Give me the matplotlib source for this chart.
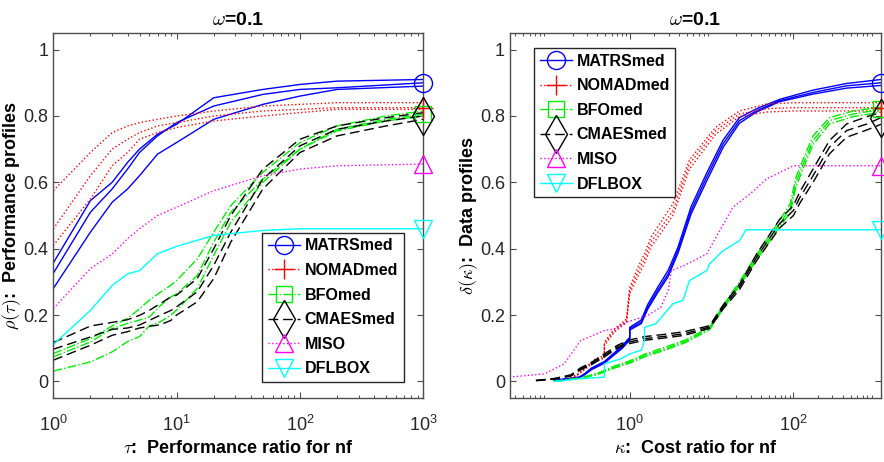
import matplotlib
matplotlib.use("Agg")
import matplotlib.pyplot as plt
from matplotlib.lines import Line2D

plt.rcParams['font.family'] = ['Liberation Sans', 'DejaVu Sans']
plt.rcParams['mathtext.fontset'] = 'cm'

# ---------------- data: performance profiles (left) ----------------
tau_a = [1, 2, 3, 4, 5, 7, 10, 20, 50, 100, 200, 1000]
perf_matrs = [
    [0.357, 0.545, 0.60, 0.66, 0.70, 0.745, 0.775, 0.855, 0.88, 0.895, 0.905, 0.91],
    [0.326, 0.51, 0.58, 0.64, 0.69, 0.74, 0.78, 0.83, 0.865, 0.88, 0.885, 0.90],
    [0.28, 0.45, 0.54, 0.58, 0.62, 0.685, 0.72, 0.79, 0.835, 0.86, 0.88, 0.89],
]
perf_nomad = [
    [0.575, 0.69, 0.75, 0.77, 0.78, 0.79, 0.80, 0.815, 0.83, 0.835, 0.84, 0.84],
    [0.46, 0.62, 0.70, 0.73, 0.75, 0.77, 0.78, 0.80, 0.815, 0.82, 0.825, 0.825],
    [0.41, 0.55, 0.65, 0.69, 0.73, 0.75, 0.765, 0.785, 0.80, 0.81, 0.82, 0.82],
]
perf_miso = [[0.22, 0.34, 0.384, 0.43, 0.46, 0.50, 0.525, 0.575, 0.62, 0.64, 0.65, 0.655]]
perf_dflbox = [[0.111, 0.214, 0.289, 0.324, 0.334, 0.385, 0.407, 0.44, 0.455, 0.46, 0.46, 0.46]]

tau_b = [1, 2, 3, 4, 5, 6, 7.4, 9, 10, 14.7, 20, 27.5, 50, 100, 200, 500, 1000]
perf_bfo = [
    [0.084, 0.129, 0.167, 0.19, 0.219, 0.245, 0.269, 0.29, 0.304, 0.369, 0.45, 0.53, 0.63, 0.72, 0.77, 0.80, 0.815],
    [0.074, 0.119, 0.159, 0.175, 0.185, 0.194, 0.229, 0.255, 0.264, 0.319, 0.42, 0.51, 0.61, 0.70, 0.76, 0.79, 0.805],
    [0.031, 0.059, 0.089, 0.12, 0.135, 0.167, 0.18, 0.20, 0.215, 0.28, 0.38, 0.48, 0.60, 0.70, 0.755, 0.785, 0.80],
]
perf_cmaes = [
    [0.117, 0.167, 0.178, 0.186, 0.199, 0.214, 0.235, 0.255, 0.26, 0.31, 0.40, 0.50, 0.64, 0.73, 0.77, 0.795, 0.81],
    [0.097, 0.134, 0.157, 0.161, 0.170, 0.184, 0.20, 0.214, 0.225, 0.27, 0.35, 0.45, 0.61, 0.71, 0.76, 0.785, 0.80],
    [0.064, 0.109, 0.139, 0.150, 0.161, 0.166, 0.171, 0.184, 0.20, 0.24, 0.31, 0.42, 0.58, 0.69, 0.74, 0.77, 0.79],
]

# ---------------- data: data profiles (right) ----------------
kap_matrs = [0.120, 0.243, 0.282, 0.339, 0.490, 0.646, 0.813, 1.0, 1.0, 1.380, 1.660, 2.188,
             2.951, 3.890, 5.623, 8.710, 13.80, 21.88, 35.48, 67.61, 173.8, 446.7, 1175]
data_matrs = [
    [0.003, 0.013, 0.023, 0.040, 0.060, 0.086, 0.108, 0.133, 0.163, 0.185, 0.232, 0.283,
     0.335, 0.405, 0.527, 0.628, 0.727, 0.795, 0.822, 0.850, 0.878, 0.898, 0.910],
    [0.003, 0.013, 0.023, 0.038, 0.058, 0.083, 0.104, 0.129, 0.159, 0.179, 0.224, 0.274,
     0.324, 0.395, 0.515, 0.616, 0.716, 0.786, 0.816, 0.846, 0.871, 0.891, 0.900],
    [0.003, 0.011, 0.020, 0.035, 0.055, 0.080, 0.100, 0.125, 0.155, 0.174, 0.218, 0.267,
     0.316, 0.387, 0.505, 0.604, 0.705, 0.778, 0.812, 0.843, 0.866, 0.884, 0.892],
]
kap_nomad = [0.191, 0.229, 0.372, 0.490, 0.490, 0.646, 0.912, 1.0, 1.259, 1.514, 1.820,
             3.365, 4.467, 5.370, 11.22, 21.88, 46.77, 100, 1175]
data_nomad = [
    [0.010, 0.022, 0.066, 0.078, 0.118, 0.158, 0.188, 0.283, 0.344, 0.384, 0.435,
     0.535, 0.615, 0.668, 0.766, 0.815, 0.836, 0.840, 0.840],
    [0.010, 0.020, 0.063, 0.073, 0.113, 0.153, 0.183, 0.274, 0.330, 0.370, 0.420,
     0.515, 0.600, 0.655, 0.756, 0.806, 0.822, 0.825, 0.825],
    [0.008, 0.018, 0.060, 0.070, 0.108, 0.148, 0.178, 0.265, 0.316, 0.356, 0.405,
     0.500, 0.585, 0.640, 0.745, 0.798, 0.812, 0.815, 0.815],
]
kap_miso = [0.0339, 0.0912, 0.158, 0.251, 0.490, 0.646, 0.933, 1.660, 2.399, 2.951, 3.236,
            4.677, 8.710, 18.20, 29.51, 46.77, 100, 1175]
data_miso = [[0.013, 0.023, 0.053, 0.123, 0.153, 0.158, 0.179, 0.199, 0.224, 0.274, 0.334,
              0.350, 0.384, 0.525, 0.565, 0.610, 0.650, 0.650]]
kap_dflbox = [0.120, 0.243, 0.490, 0.490, 0.776, 1.0, 1.380, 1.514, 1.514, 2.089, 3.365,
              4.467, 5.370, 8.710, 9.462, 13.80, 21.88, 26.30, 1175]
data_dflbox = [[0.0, 0.008, 0.013, 0.053, 0.068, 0.083, 0.094, 0.123, 0.163, 0.174, 0.234,
                0.244, 0.304, 0.334, 0.354, 0.394, 0.424, 0.457, 0.457]]
kap_bfo = [0.120, 0.251, 0.407, 0.646, 1.0, 1.514, 2.692, 4.898, 9.462, 13.80, 21.88, 35.48,
           67.61, 91.2, 107.2, 131.8, 173.8, 275.4, 537, 955, 1175]
data_bfo = [
    [0.0, 0.011, 0.025, 0.046, 0.062, 0.082, 0.103, 0.126, 0.163, 0.228, 0.300, 0.382,
     0.485, 0.535, 0.615, 0.670, 0.740, 0.795, 0.815, 0.824, 0.826],
    [0.0, 0.010, 0.023, 0.043, 0.058, 0.078, 0.098, 0.122, 0.160, 0.224, 0.294, 0.374,
     0.475, 0.520, 0.600, 0.655, 0.726, 0.786, 0.806, 0.816, 0.820],
    [0.0, 0.009, 0.021, 0.040, 0.055, 0.074, 0.094, 0.118, 0.156, 0.218, 0.288, 0.366,
     0.466, 0.508, 0.586, 0.642, 0.714, 0.776, 0.798, 0.808, 0.812],
]
kap_cmaes = [0.0714, 0.120, 0.191, 0.251, 0.339, 0.490, 0.708, 1.0, 1.514, 2.692, 4.677,
             9.462, 13.80, 21.88, 35.48, 67.61, 100, 120.2, 173.8, 275.4, 446.7, 794, 1175]
data_cmaes = [
    [0.003, 0.009, 0.020, 0.041, 0.057, 0.083, 0.109, 0.125, 0.135, 0.142, 0.150,
     0.168, 0.230, 0.292, 0.384, 0.488, 0.530, 0.572, 0.640, 0.726, 0.776, 0.798, 0.811],
    [0.003, 0.008, 0.018, 0.038, 0.053, 0.078, 0.104, 0.119, 0.129, 0.136, 0.144,
     0.164, 0.224, 0.284, 0.374, 0.475, 0.515, 0.555, 0.620, 0.706, 0.756, 0.776, 0.795],
    [0.002, 0.007, 0.016, 0.035, 0.050, 0.074, 0.100, 0.114, 0.124, 0.131, 0.139,
     0.160, 0.218, 0.276, 0.364, 0.462, 0.500, 0.538, 0.600, 0.686, 0.736, 0.758, 0.775],
]

labels = ['MATRSmed', 'NOMADmed', 'BFOmed', 'CMAESmed', 'MISO', 'DFLBOX']
colors = ['#0000ff', '#ff0000', '#00ee00', '#000000', '#ff00ff', '#00ffff']
styles = ['-', ':', '-.', (0, (7, 3.5)), ':', '-']
markers = ['o', '+', 's', 'd', '^', 'v']
msizes = [13, 15, 11, 19, 13, 13]

perf_sets = [(tau_a, perf_matrs), (tau_a, perf_nomad), (tau_b, perf_bfo),
             (tau_b, perf_cmaes), (tau_a, perf_miso), (tau_a, perf_dflbox)]
data_sets = [(kap_matrs, data_matrs), (kap_nomad, data_nomad), (kap_bfo, data_bfo),
             (kap_cmaes, data_cmaes), (kap_miso, data_miso), (kap_dflbox, data_dflbox)]

fig = plt.figure(figsize=(8.84, 4.62), dpi=100)
axL = fig.add_axes([0.0603, 0.1385, 0.4185, 0.790])
axR = fig.add_axes([0.5769, 0.1385, 0.4197, 0.790])

spine_c = '#4d4d4d'


def draw(ax, sets):
    for i, (xs, ys_list) in enumerate(sets):
        for ys in ys_list:
            ax.plot(xs, ys, color=colors[i], linestyle=styles[i], lw=1.0)
        mid = ys_list[len(ys_list) // 2]
        ax.plot([xs[-1]], [mid[-1]], linestyle='none', marker=markers[i],
                markersize=msizes[i], markerfacecolor='none', markeredgecolor=colors[i],
                markeredgewidth=1.0, clip_on=False, zorder=5)


def style(ax):
    ax.set_xscale('log')
    ax.set_ylim(-0.05, 1.05)
    ax.set_yticks([0, 0.2, 0.4, 0.6, 0.8, 1.0])
    ax.set_yticklabels(['0', '0.2', '0.4', '0.6', '0.8', '1'])
    ax.tick_params(which='both', direction='in', top=True, right=True, colors=spine_c,
                   labelcolor='#262626', labelsize=13)
    ax.tick_params(which='major', length=4.5, width=0.8)
    ax.tick_params(axis='x', which='major', pad=12)
    ax.tick_params(axis='y', which='major', pad=3.5)
    ax.tick_params(which='minor', length=2.5, width=0.7)
    for s in ax.spines.values():
        s.set_color(spine_c)
        s.set_linewidth(1.0)
    ax.set_title(r'$\omega$=0.1', fontsize=14, fontweight='bold', pad=6)


draw(axL, perf_sets)
draw(axR, data_sets)
style(axL)
style(axR)
axL.set_xlim(1, 1000)
axR.set_xlim(0.0344, 1175)
axR.set_xticks([1, 100])
axL.set_xticks([1, 10, 100, 1000])

axL.set_xlabel(r'$\tau$:  Performance ratio for nf', fontsize=13, fontweight='bold')
axL.set_ylabel(r'$\rho(\tau)$:  Performance profiles', fontsize=13, fontweight='bold')
axR.set_xlabel(r'$\kappa$:  Cost ratio for nf', fontsize=13, fontweight='bold')
axR.set_ylabel(r'$\delta(\kappa)$:  Data profiles', fontsize=13, fontweight='bold')
axL.yaxis.set_label_coords(-0.081, 0.5)
axR.yaxis.set_label_coords(-0.081, 0.5)
axL.xaxis.set_label_coords(0.5, -0.115)
axR.xaxis.set_label_coords(0.5, -0.115)

handles = [Line2D([], [], color=colors[i], linestyle=styles[i], lw=1.0, marker=markers[i],
                  markersize=msizes[i], markerfacecolor='none', markeredgecolor=colors[i])
           for i in range(6)]

legkw = dict(handles=handles, labels=labels, prop={'weight': 'bold', 'size': 11.5},
             frameon=True, fancybox=False, edgecolor='#262626', framealpha=1,
             handlelength=2.0, handletextpad=0.3, labelspacing=0.6, borderpad=0.35,
             borderaxespad=0, numpoints=1)
lg = axL.legend(loc='lower left', bbox_to_anchor=(0.565, 0.044), **legkw)
lg.get_frame().set_linewidth(1.0)
lg2 = axR.legend(loc='upper left', bbox_to_anchor=(0.065, 0.959), **legkw)
lg2.get_frame().set_linewidth(1.0)

fig.savefig('out.png', dpi=100)
